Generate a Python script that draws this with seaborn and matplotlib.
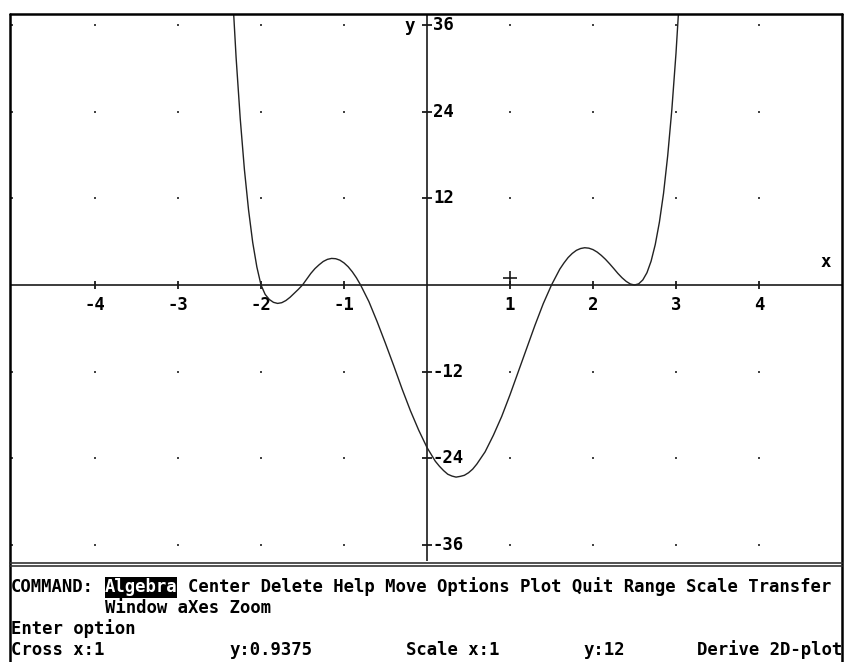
import numpy as np
import pandas as pd
import matplotlib
matplotlib.use("Agg")
import matplotlib.pyplot as plt
import matplotlib.transforms as mtransforms
from matplotlib.lines import Line2D
from matplotlib.patches import Rectangle
import seaborn as sns

# ---------------- data ----------------
curve_x = [-2.35, -2.3, -2.25, -2.2, -2.15, -2.1, -2.05, -2.0, -1.95, -1.9, -1.85,
           -1.8, -1.75, -1.7, -1.65, -1.6, -1.55, -1.5, -1.45, -1.4, -1.35, -1.3,
           -1.25, -1.2, -1.15, -1.1, -1.05, -1.0, -0.95, -0.9, -0.85, -0.8, -0.7,
           -0.6, -0.5, -0.4, -0.3, -0.2, -0.1, 0.0, 0.1, 0.15, 0.2, 0.25, 0.3,
           0.35, 0.4, 0.45, 0.5, 0.55, 0.6, 0.7, 0.8, 0.9, 1.0, 1.1, 1.2, 1.3,
           1.4, 1.5, 1.6, 1.65, 1.7, 1.75, 1.8, 1.85, 1.9, 1.95, 2.0, 2.05, 2.1,
           2.15, 2.2, 2.25, 2.3, 2.35, 2.4, 2.45, 2.5, 2.55, 2.6, 2.65, 2.7, 2.75,
           2.8, 2.85, 2.9, 2.95, 3.0, 3.05]
curve_y = [41.8, 31.5, 23.0, 16.0, 10.4, 5.9, 2.5, 0.0, -1.3, -2.0, -2.4,
           -2.55, -2.45, -2.15, -1.7, -1.15, -0.6, 0.0, 0.8, 1.6, 2.27, 2.8,
           3.26, 3.55, 3.68, 3.64, 3.44, 3.06, 2.53, 1.83, 0.99, 0.0, -2.3,
           -5.1, -8.1, -11.2, -14.4, -17.4, -20.1, -22.5, -24.4, -25.1, -25.7, -26.2, -26.45,
           -26.6, -26.5, -26.35, -26.0, -25.5, -24.8, -23.1, -20.8, -18.2, -15.2, -12.0, -8.8, -5.6,
           -2.6, 0.0, 2.2, 3.05, 3.8, 4.37, 4.8, 5.05, 5.16, 5.1, 4.9, 4.56, 4.1,
           3.56, 2.94, 2.28, 1.6, 1.0, 0.5, 0.14, 0.0, 0.16, 0.7, 1.7, 3.3, 5.6,
           8.7, 12.7, 17.9, 24.3, 32.1, 41.5]

x_ticks = [-4, -3, -2, -1, 1, 2, 3, 4]
y_ticks = [-36, -24, -12, 12, 24, 36]
x_tick_labels = ["-4", "-3", "-2", "-1", "1", "2", "3", "4"]
y_tick_labels = ["-36", "-24", "-12", "12", "24", "36"]
grid_x = [-5, -4, -3, -2, -1, 1, 2, 3, 4]
grid_y = [-36, -24, -12, 12, 24, 36]
cross_x = [1.0]
cross_y = [0.9375]

menu_line1_cmd = "COMMAND:"
menu_highlight = "Algebra"
menu_line1_rest = "Center Delete Help Move Options Plot Quit Range Scale Transfer"
menu_line2 = "Window aXes Zoom"
prompt_line = "Enter option"
status_items = [("Cross x:1", 0), ("y:0.9375", 21), ("Scale x:1", 38), ("y:12", 55), ("Derive 2D-plot", 66)]

# ---------------- figure ----------------
sns.set_style("white")
plt.rcParams['font.family'] = ['DejaVu Sans Mono', 'DejaVu Sans']

W, H = 844, 662
fig = plt.figure(figsize=(W / 100, H / 100), dpi=100)
fig.patch.set_facecolor("white")

L, R, T, B = 10, 842, 13.5, 561
ax = fig.add_axes([L / W, 1 - B / H, (R - L) / W, (B - T) / H])
x0px, xscale = 427.0, 83.0
y0px, yscale = 285.0, 86.667 / 12
ax.set_xlim((L - x0px) / xscale, (R - x0px) / xscale)
ax.set_ylim((y0px - B) / yscale, (y0px - T) / yscale)
ax.set_axis_off()

ink = "#1a1a1a"
# grid dots
gx, gy = np.meshgrid(grid_x, grid_y)
sns.scatterplot(x=gx.ravel(), y=gy.ravel(), ax=ax, s=2.5, marker="s",
                color="#444444", linewidth=0, legend=False)

# axes lines
ax.axhline(0, color=ink, lw=1.2, zorder=2)
ax.axvline(0, color=ink, lw=1.2, zorder=2)

# tick marks
ax.plot(x_ticks, [0] * len(x_ticks), linestyle="none", marker="|", ms=6,
        mew=1.3, color=ink, zorder=3)
ax.plot([0] * len(y_ticks), y_ticks, linestyle="none", marker="_", ms=7,
        mew=1.3, color=ink, zorder=3)

# curve
df = pd.DataFrame({"x": curve_x, "y": curve_y})
sns.lineplot(data=df, x="x", y="y", ax=ax, color="#222222", lw=1.0,
             estimator=None, sort=False, zorder=4)

# cross cursor
ax.plot(cross_x, cross_y, linestyle="none", marker="+", ms=10, mew=1.2,
        color=ink, zorder=5)

tfont = dict(family="DejaVu Sans Mono", weight="bold", size=12.4, color="black")

# tick labels
xoff = mtransforms.offset_copy(ax.transData, fig=fig, x=0, y=-20, units="dots")
for xv, lab in zip(x_ticks, x_tick_labels):
    ax.text(xv, 0, lab, transform=xoff, ha="center", va="center", **tfont)
yoff = mtransforms.offset_copy(ax.transData, fig=fig, x=6, y=0, units="dots")
for yv, lab in zip(y_ticks, y_tick_labels):
    ax.text(0, yv, lab, transform=yoff, ha="left", va="center", **tfont)


def fx(px):
    return px / W


def fy(py):
    return 1 - py / H


# axis name labels
fig.text(fx(410), fy(26), "y", ha="center", va="center", **tfont)
fig.text(fx(826), fy(262), "x", ha="center", va="center", **tfont)

# frame
frame_lines = [
    ([L, L], [T, H]),
    ([R, R], [T, H]),
    ([L, R], [T, T]),
]
for xs, ys in frame_lines:
    fig.add_artist(Line2D([fx(v) for v in xs], [fy(v) for v in ys],
                          transform=fig.transFigure, color="black", lw=1.8))
for yy in (562.5, 565.5):
    fig.add_artist(Line2D([fx(L), fx(R)], [fy(yy), fy(yy)],
                          transform=fig.transFigure, color="#333333", lw=1.2))

# bottom text area
cw = 10.4


def col(c):
    return fx(11 + c * cw)


fig.add_artist(Rectangle((fx(104.5), fy(597.5)), (7 * cw) / W, 20.5 / H,
                         transform=fig.transFigure, facecolor="black",
                         edgecolor="none"))
fig.text(col(0), fy(587), menu_line1_cmd, ha="left", va="center", **tfont)
fig.text(col(9), fy(587), menu_highlight, ha="left", va="center",
         **{**tfont, "color": "white"})
fig.text(col(17), fy(587), menu_line1_rest, ha="left", va="center", **tfont)
fig.text(col(9), fy(608), menu_line2, ha="left", va="center", **tfont)
fig.text(col(0), fy(629), prompt_line, ha="left", va="center", **tfont)
for s, c in status_items:
    fig.text(col(c), fy(650), s, ha="left", va="center", **tfont)

fig.savefig("out.png", dpi=100, facecolor="white")
